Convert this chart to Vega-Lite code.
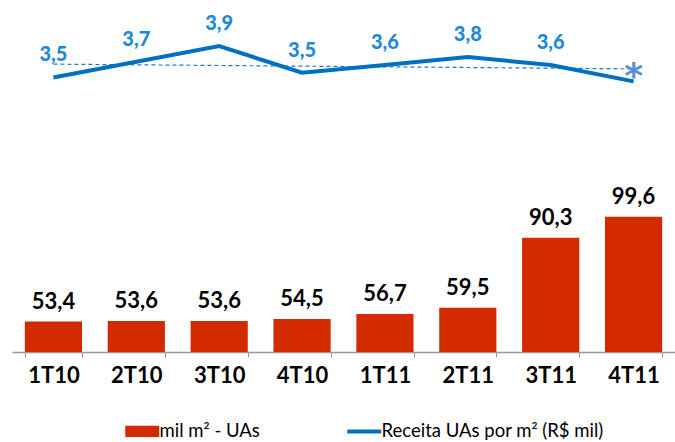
{
  "$schema": "https://vega.github.io/schema/vega-lite/v6.json",
  "width": 663,
  "height": 352,
  "padding": {"left": 12, "top": 0, "right": 0, "bottom": 0},
  "autosize": {"type": "pad"},
  "background": "white",
  "config": {"view": {"stroke": null}, "font": "Lato"},
  "datasets": {
    "main": [
      {"q": "1T10", "area": 53.4, "area_txt": "53,4", "receita": 3.51, "receita_txt": "3,5"},
      {"q": "2T10", "area": 53.6, "area_txt": "53,6", "receita": 3.71, "receita_txt": "3,7"},
      {"q": "3T10", "area": 53.6, "area_txt": "53,6", "receita": 3.91, "receita_txt": "3,9"},
      {"q": "4T10", "area": 54.5, "area_txt": "54,5", "receita": 3.57, "receita_txt": "3,5"},
      {"q": "1T11", "area": 56.7, "area_txt": "56,7", "receita": 3.67, "receita_txt": "3,6"},
      {"q": "2T11", "area": 59.5, "area_txt": "59,5", "receita": 3.77, "receita_txt": "3,8"},
      {"q": "3T11", "area": 90.3, "area_txt": "90,3", "receita": 3.67, "receita_txt": "3,6"},
      {"q": "4T11", "area": 99.6, "area_txt": "99,6", "receita": 3.46, "receita_txt": ""}
    ],
    "trend": [
      {"q": "1T10", "trend": 3.68},
      {"q": "4T11", "trend": 3.62}
    ],
    "star": [
      {"q": "4T11", "v": 3.62, "t": "*"}
    ]
  },
  "encoding": {
    "x": {
      "field": "q",
      "type": "ordinal",
      "sort": null,
      "scale": {
        "domain": ["1T10", "2T10", "3T10", "4T10", "1T11", "2T11", "3T11", "4T11"],
        "paddingInner": 0.31,
        "paddingOuter": 0.155
      },
      "axis": {
        "title": null,
        "labelAngle": 0,
        "labelFont": "Lato",
        "labelFontSize": 22,
        "labelFontWeight": "bold",
        "labelColor": "#000000",
        "labelPadding": 8,
        "tickSize": 5,
        "tickBand": "extent",
        "tickColor": "#999999",
        "domainColor": "#999999",
        "domainWidth": 1.5,
        "grid": false
      }
    }
  },
  "layer": [
    {
      "data": {"name": "main"},
      "layer": [
        {
          "mark": {"type": "bar"},
          "encoding": {
            "y": {"field": "area", "type": "quantitative", "scale": {"domain": [40, 195], "nice": false, "zero": false}, "axis": null},
            "y2": {"datum": 40},
            "color": {
              "datum": "mil m² - UAs",
              "type": "nominal",
              "scale": {"domain": ["mil m² - UAs", "Receita UAs por m² (R$ mil)"], "range": ["#D42A00", "#0070C0"]},
              "legend": {
                "orient": "none",
                "legendX": 121,
                "legendY": 422,
                "direction": "horizontal",
                "title": null,
                "labelFont": "Lato",
                "labelFontSize": 18.5,
                "labelColor": "#000000",
                "symbolSize": 1156,
                "labelOffset": 8,
                "columnPadding": 79,
                "labelLimit": 400,
                "encode": {
                  "symbols": {
                    "update": {
                      "shape": {"signal": "datum.value === 'mil m² - UAs' ? 'M-1,-0.33H1V0.33H-1Z' : 'M-1,0H1'"},
                      "fill": {"signal": "datum.value === 'mil m² - UAs' ? '#D42A00' : 'transparent'"},
                      "stroke": {"signal": "datum.value === 'mil m² - UAs' ? '#D42A00' : '#0070C0'"},
                      "strokeWidth": {"signal": "datum.value === 'mil m² - UAs' ? 0 : 4"},
                      "opacity": {"value": 1}
                    }
                  }
                }
              }
            }
          }
        },
        {
          "mark": {"type": "text", "font": "Lato", "fontSize": 22, "fontWeight": "bold", "color": "#000000", "baseline": "middle", "dy": -20},
          "encoding": {
            "y": {"field": "area", "type": "quantitative", "scale": {"domain": [40, 195], "nice": false, "zero": false}, "axis": null},
            "text": {"field": "area_txt"}
          }
        }
      ]
    },
    {
      "layer": [
        {
          "data": {"name": "trend"},
          "mark": {"type": "line", "color": "#2E75C8", "strokeWidth": 1.2, "strokeDash": [4, 3]},
          "encoding": {
            "y": {"field": "trend", "type": "quantitative", "scale": {"domain": [0, 4.5], "nice": false, "zero": false}, "axis": null}
          }
        },
        {
          "data": {"name": "main"},
          "mark": {"type": "line", "strokeWidth": 4},
          "encoding": {
            "y": {"field": "receita", "type": "quantitative", "scale": {"domain": [0, 4.5], "nice": false, "zero": false}, "axis": null},
            "color": {"datum": "Receita UAs por m² (R$ mil)", "type": "nominal"}
          }
        },
        {
          "data": {"name": "main"},
          "mark": {"type": "text", "font": "Lato", "fontSize": 20, "fontWeight": 900, "color": "#1E88DC", "baseline": "middle", "dy": -22},
          "encoding": {
            "y": {"field": "receita", "type": "quantitative", "scale": {"domain": [0, 4.5], "nice": false, "zero": false}, "axis": null},
            "text": {"field": "receita_txt"}
          }
        },
        {
          "data": {"name": "star"},
          "mark": {"type": "text", "font": "DejaVu Sans", "fontSize": 36, "fontWeight": "bold", "color": "#5B8ED6", "baseline": "middle", "dy": 8},
          "encoding": {
            "y": {"field": "v", "type": "quantitative", "scale": {"domain": [0, 4.5], "nice": false, "zero": false}, "axis": null},
            "text": {"field": "t"}
          }
        }
      ]
    }
  ],
  "resolve": {"scale": {"y": "independent"}}
}
